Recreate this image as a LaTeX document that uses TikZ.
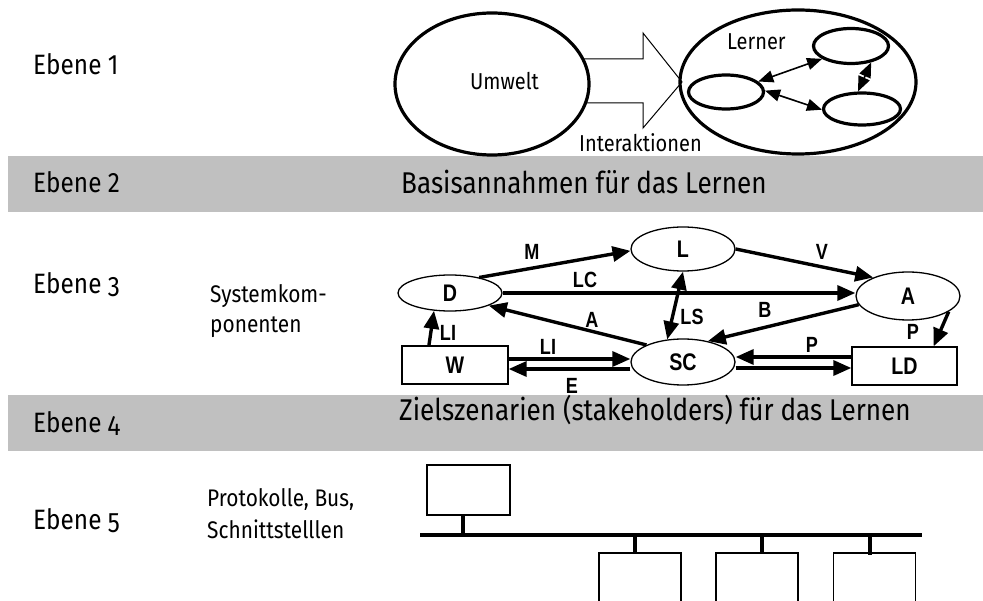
\documentclass[tikz,border=0pt]{standalone}
\usepackage{fontspec}
\setmainfont{Fira Sans}[FakeStretch=0.87]
\newfontfamily\oldfig{Fira Sans}[FakeStretch=0.87,Numbers=OldStyle]
\newfontfamily\labfont{Liberation Sans}[FakeStretch=0.82]
\usetikzlibrary{arrows.meta,shapes.geometric,calc}
\definecolor{bandgray}{RGB}{192,192,192}
\begin{document}
\begin{tikzpicture}[x=1pt,y=-1pt,
  band/.style={fill=bandgray,draw=none},
  lvl/.style={anchor=base west,inner sep=0,font=\fontsize{28}{32}\selectfont},
  head/.style={anchor=base west,inner sep=0,font=\fontsize{30}{34}\selectfont},
  small/.style={anchor=base west,inner sep=0,font=\fontsize{24}{28}\selectfont},
  mid/.style={anchor=base west,inner sep=0,font=\fontsize{23}{27}\selectfont},
  blob/.style={ellipse,draw,line width=3.2pt,inner sep=0},
  comp/.style={ellipse,draw,line width=1.3pt,inner sep=0,minimum width=104pt,
    font=\labfont\bfseries\fontsize{24}{26}\selectfont},
  cbox/.style={rectangle,draw,line width=1.3pt,inner sep=0,minimum width=106pt,
    minimum height=38pt,font=\labfont\bfseries\fontsize{24}{26}\selectfont},
  lab/.style={inner sep=0,font=\labfont\bfseries\fontsize{22}{24}\selectfont},
  flow/.style={line width=3.4pt,-{Triangle[length=18pt,width=15pt]}},
  both/.style={line width=3.4pt,{Triangle[length=18pt,width=15pt]}-{Triangle[length=18pt,width=15pt]}},
  thin/.style={line width=1.6pt,{Triangle[length=15pt,width=12pt]}-{Triangle[length=15pt,width=12pt]}},
  busbox/.style={rectangle,draw,line width=1.8pt,inner sep=0,minimum width=82pt},
  stem/.style={line width=4pt},
  bus/.style={line width=4.5pt}]
\useasboundingbox (0,0) rectangle (983,601);
\clip (0,0) rectangle (983,601);

% grey bands for levels 2 and 4
\fill[band] (8,156) rectangle (983,212);
\fill[band] (8,395) rectangle (983,451);

% level captions
\node[lvl] (e1) at (33,75) {Ebene 1};
\node[lvl] (e2) at (33,193) {Ebene 2};
\node[lvl] (e3) at (33,294) {Ebene {\oldfig 3}};
\node[lvl] (e4) at (33,433) {Ebene {\oldfig 4}};
\node[lvl] (e5) at (33,529) {Ebene {\oldfig 5}};

\node[head] (h2) at (401,194) {Basisannahmen für das Lernen};
\node[head] (h4) at (399,421) {Zielszenarien (stakeholders) für das Lernen};

\node[small] (s3a) at (210,303) {Systemkom-};
\node[small] (s3b) at (210,333) {ponenten};
\node[small] (s5a) at (207,507) {Protokolle, Bus,};
\node[small] (s5b) at (207,538) {Schnittstelllen};

% level 1: environment, interaction arrow, learners
\draw[line width=1pt,fill=white] (575,59) -- (643,59) -- (643,33) -- (682,82)
  -- (643,128) -- (643,103) -- (575,103);
\node[blob,fill=white,minimum width=194pt,minimum height=142pt] (umwelt) at (492,84) {};
\node[mid] (umweltlabel) at (470,90) {Umwelt};
\node[mid] (inter) at (579,152) {Interaktionen};
\node[blob,minimum width=236pt,minimum height=144pt] (lerner) at (798,82) {};
\node[mid] (lernerlabel) at (727,50) {Lerner};
\node[blob,minimum width=75pt,minimum height=34pt] (l1) at (726,92) {};
\node[blob,minimum width=75pt,minimum height=35pt] (l2) at (851,46) {};
\node[blob,minimum width=77pt,minimum height=32pt] (l3) at (862,109) {};
\draw[thin] (l1.18) -- (l2.204);
\draw[thin] (l1.2) -- (l3.181);
\draw[thin] (l2.-39) -- (l3.103);

% level 3: system components
\node[comp,minimum height=36pt] (D) at (450,293) {D};
\node[comp,minimum height=44pt] (L) at (683,249) {L};
\node[comp,minimum height=46pt] (SC) at (683,362) {SC};
\node[comp,minimum height=48pt] (A) at (908,296) {A};
\node[cbox] (W) at (455,365) {W};
\node[cbox,minimum width=105pt] (LD) at (904.5,366) {LD};

\draw[flow] (D.28) -- (L.182);
\draw[flow] (D.east) -- (D.east -| A.west);
\draw[flow] (L.east) -- (A.152);
\draw[flow] (SC.155) -- (D.-18);
\draw[flow] (A.190) -- (SC.40);
\draw[both] (L.south) -- (SC.125);
\draw[flow] (W.143) -- (D.228);
\draw[flow] ([yshift=6pt]W.east) -- ([yshift=6pt]W.east -| SC.west);
\draw[flow] ([yshift=-4pt]W.east -| SC.west) -- ([yshift=-4pt]W.east);
\draw[flow] ([yshift=9pt]LD.west) -- ([yshift=9pt]LD.west -| SC.east);
\draw[flow] ([yshift=-2pt]LD.west -| SC.east) -- ([yshift=-2pt]LD.west);
\draw[flow] (A.-21) -- (LD.34);

\node[lab] (lM) at (532,252) {M};
\node[lab] (lLC) at (585,280) {LC};
\node[lab] (lV) at (822,252) {V};
\node[lab] (lA) at (592,320) {A};
\node[lab] (lB) at (765,310) {B};
\node[lab] (lLS) at (692,317) {LS};
\node[lab] (lLI1) at (448,333) {LI};
\node[lab] (lLI2) at (548,347) {LI};
\node[lab] (lE) at (572,386) {E};
\node[lab] (lP1) at (812,345) {P};
\node[lab] (lP2) at (913,332) {P};

% level 5: bus with attached stations
\node[busbox,minimum width=83pt,minimum height=50pt] (host) at (468.5,490) {};
\node[busbox,minimum height=70pt] (b1) at (640,588) {};
\node[busbox,minimum height=70pt] (b2) at (757,588) {};
\node[busbox,minimum height=70pt] (b3) at (874.5,588) {};
\coordinate (busL) at (420,535);
\coordinate (busR) at (922,535);
\draw[bus] (busL) -- (busR);
\draw[stem] ([xshift=-5.5pt]host.south) -- ([xshift=-5.5pt]host.south |- busL);
\draw[stem] ([xshift=-5pt]b1.north |- busL) -- ([xshift=-5pt]b1.north);
\draw[stem] ([xshift=5pt]b2.north |- busL) -- ([xshift=5pt]b2.north);
\draw[stem] ([xshift=-4.5pt]b3.north |- busL) -- ([xshift=-4.5pt,yshift=-3pt]b3.north);
\end{tikzpicture}
\end{document}
